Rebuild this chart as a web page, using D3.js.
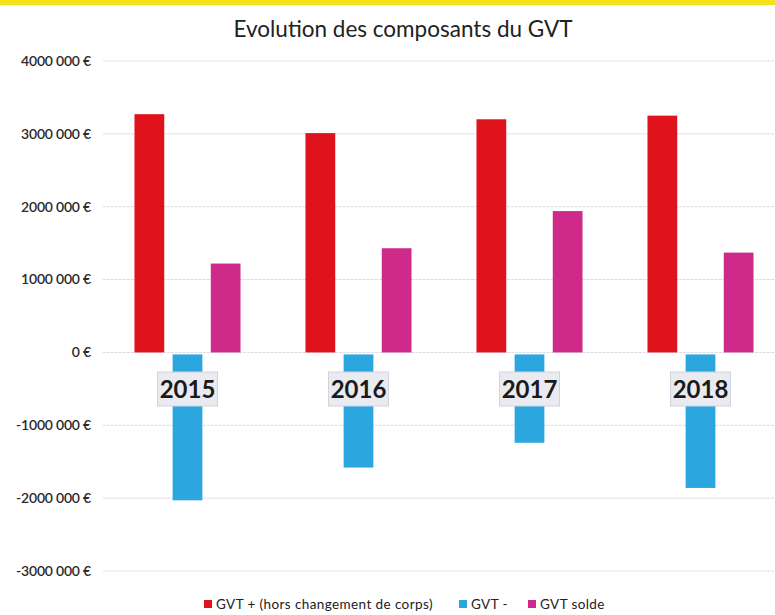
<!DOCTYPE html>
<html>
<head>
<meta charset="utf-8">
<script src="https://cdn.jsdelivr.net/npm/d3@7"></script>
<style>
  body { margin: 0; background: #fff; }
  text { font-family: Lato, "Open Sans", sans-serif; }
  .grid line { stroke: #d9dae4; stroke-width: 1; stroke-dasharray: 3,1; }
  .tick-label { font-size: 14px; font-weight: 600; fill: #2b2b2b; letter-spacing: -0.2px; }
</style>
</head>
<body>
<div id="chart"></div>
<script>
// data
var years = ["2015", "2016", "2017", "2018"];
var seriesNames = ["GVT + (hors changement de corps)", "GVT -", "GVT solde"];
var gvtPlus  = [3270000, 3010000, 3200000, 3250000];
var gvtMinus = [-2030000, -1580000, -1240000, -1860000];
var gvtSolde = [1220000, 1430000, 1940000, 1370000];
var yTicks = [4000000, 3000000, 2000000, 1000000, 0, -1000000, -2000000, -3000000];
var yTickLabels = ["4000 000 €", "3000 000 €", "2000 000 €", "1000 000 €", "0 €",
                   "-1000 000 €", "-2000 000 €", "-3000 000 €"];
var colors = ["#e0121b", "#2ba6df", "#cf2a8a"];

var width = 775, height = 615;

var svg = d3.select("#chart").append("svg")
    .attr("width", width)
    .attr("height", height);

// yellow band at the top of the scan
svg.append("rect")
    .attr("x", 0).attr("y", 0)
    .attr("width", width).attr("height", 5)
    .attr("fill", "#f4e31a");

// title
svg.append("text")
    .attr("x", 403)
    .attr("y", 37)
    .attr("text-anchor", "middle")
    .style("font-size", "22.5px")
    .style("fill", "#222")
    .text("Evolution des composants du GVT");

// scales
var y = d3.scaleLinear().domain([-3000000, 4000000]).range([571, 61]);

var x0 = d3.scaleBand()
    .domain(years)
    .range([102, 786])
    .paddingInner(0.38)
    .paddingOuter(0.19);

var x1 = d3.scaleBand()
    .domain(d3.range(seriesNames.length))
    .range([0, x0.bandwidth()])
    .paddingInner(0.22);

var color = d3.scaleOrdinal().domain(d3.range(3)).range(colors);

// gridlines
var grid = svg.append("g").attr("class", "grid");
grid.selectAll("line")
    .data(yTicks)
  .enter().append("line")
    .attr("x1", 103)
    .attr("x2", width)
    .attr("y1", function(d) { return y(d); })
    .attr("y2", function(d) { return y(d); });

// y labels
svg.append("g").selectAll("text")
    .data(yTicks)
  .enter().append("text")
    .attr("class", "tick-label")
    .attr("x", 91)
    .attr("y", function(d) { return y(d); })
    .attr("dy", "0.35em")
    .attr("text-anchor", "end")
    .text(function(d, i) { return yTickLabels[i]; });

// bars
var rows = years.map(function(yr, i) {
  return { year: yr, values: [gvtPlus[i], gvtMinus[i], gvtSolde[i]] };
});

var groups = svg.selectAll(".year")
    .data(rows)
  .enter().append("g")
    .attr("class", "year")
    .attr("transform", function(d) { return "translate(" + x0(d.year) + ",0)"; });

groups.selectAll("rect")
    .data(function(d) { return d.values.map(function(v, k) { return { k: k, v: v }; }); })
  .enter().append("rect")
    .attr("x", function(d) { return x1(d.k); })
    .attr("width", x1.bandwidth())
    .attr("y", function(d) { return d.v >= 0 ? y(d.v) : y(0) + 2; })
    .attr("height", function(d) { return d.v >= 0 ? y(0) - y(d.v) : y(d.v) - y(0) - 2; })
    .attr("fill", function(d) { return color(d.k); });

// year labels with grey box
var labels = svg.selectAll(".year-label")
    .data(years)
  .enter().append("g")
    .attr("class", "year-label")
    .attr("transform", function(d) { return "translate(" + (x0(d) + x0.bandwidth() / 2) + ",389)"; });

labels.append("rect")
    .attr("x", -30)
    .attr("y", -17)
    .attr("width", 60)
    .attr("height", 34)
    .attr("fill", "#e9ebf0")
    .attr("stroke", "#cfd3dc")
    .attr("stroke-width", 1);

labels.append("text")
    .attr("text-anchor", "middle")
    .attr("dy", "0.36em")
    .style("font-size", "24px")
    .style("font-weight", "700")
    .style("fill", "#1a1a1a")
    .text(function(d) { return d; });

// legend
var legendX = [204, 459, 528];
var legend = svg.selectAll(".legend")
    .data(seriesNames)
  .enter().append("g")
    .attr("class", "legend")
    .attr("transform", function(d, i) { return "translate(" + legendX[i] + ",604)"; });

legend.append("rect")
    .attr("x", 0)
    .attr("y", -4)
    .attr("width", 8)
    .attr("height", 8)
    .style("fill", function(d, i) { return color(i); });

legend.append("text")
    .attr("x", 12)
    .attr("dy", "0.35em")
    .style("font-size", "13.5px")
    .style("letter-spacing", "0.4px")
    .style("fill", "#222")
    .text(function(d) { return d; });
</script>
</body>
</html>
